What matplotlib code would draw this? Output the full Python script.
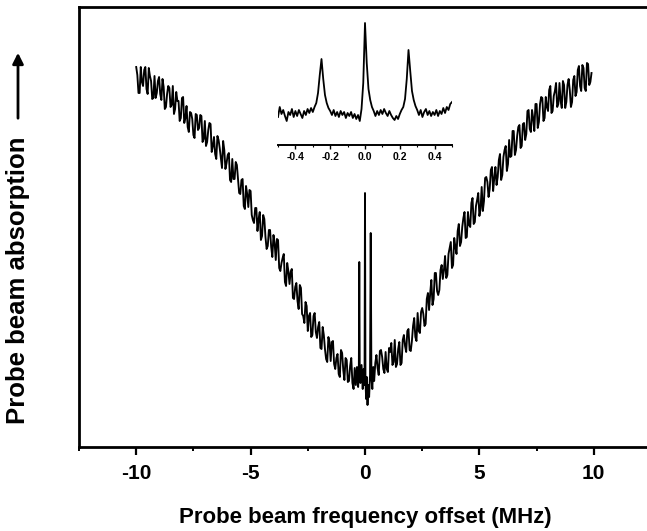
import numpy as np
import matplotlib
matplotlib.use("Agg")
import matplotlib.pyplot as plt
from matplotlib.ticker import MultipleLocator, FixedLocator

plt.rcParams['font.family'] = ['Liberation Sans', 'DejaVu Sans']
plt.rcParams['font.weight'] = 'bold'
plt.rcParams['axes.unicode_minus'] = False

# ---------------- data (absorption, arbitrary units) ----------------
# left wing, samples at -10.0, -9.9, ... -0.6 MHz
freq_left = np.round(np.linspace(-10.0, -0.6, 95), 2)
absorb_left = [
    380, 354, 380, 361, 380,   353, 371, 348, 371, 354,
    370, 347, 360, 340, 361,   340, 361, 338, 346, 326,
    349, 324, 341, 315, 334,   312, 333, 317, 332, 305,
    326, 305, 324, 295, 310,   288, 307, 289, 306, 278,
    292, 267, 288, 268, 282,   254, 267, 241, 261, 240,
    256, 227, 239, 216, 235,   211, 228, 198, 217, 200,
    212, 187, 207, 176, 189,   165, 184, 163, 178, 148,
    164, 138, 159, 131, 145,   116, 134, 112, 134, 109,
    125, 98, 112, 88, 110,     86, 106, 78, 93, 70,
    94, 67, 87, 66, 89,
]
# left wing, samples at -9.95, -9.85, ... -0.55 MHz
freq_left_mid = np.round(np.linspace(-9.95, -0.55, 95), 2)
absorb_left_mid = [
    372, 354, 365, 377, 358,   379, 366, 349, 349, 366,
    353, 368, 338, 353, 359,   342, 333, 355, 346, 329,
    350, 329, 320, 335, 328,   309, 332, 319, 331, 308,
    301, 317, 323, 301, 293,   311, 299, 279, 297, 284,
    294, 265, 268, 285, 268,   253, 268, 238, 253, 257,
    232, 224, 239, 228, 207,   232, 210, 201, 217, 190,
    204, 208, 179, 184, 193,   161, 176, 175, 149, 160,
    146, 162, 133, 124, 141,   131, 110, 131, 115, 120,
    99, 120, 98, 85, 105,      105, 83, 89, 73, 97,
    77, 89, 65, 81, 64,
]

# centre region with the three narrow resonances
freq_center = [-0.5, -0.45, -0.4, -0.35, -0.3, -0.27, -0.25, -0.23, -0.2, -0.15,
               -0.1, -0.06, -0.02, 0.0, 0.02, 0.05, 0.08, 0.11, 0.14, 0.18,
               0.22, 0.25, 0.28, 0.32, 0.36, 0.4, 0.45]
absorb_center = [58, 79, 62, 80, 60, 74, 185, 76, 64, 82,
                 58, 78, 62, 254, 66, 48, 70, 42, 62, 50,
                 72, 214, 70, 58, 80, 66, 84]

# right wing, samples at 0.5, 0.6, ... 9.9 MHz
freq_right = np.round(np.linspace(0.5, 9.9, 95), 2)
absorb_right = [
    92, 72, 97, 78, 95,        75, 95, 82, 107, 83,
    105, 84, 112, 95, 118,     96, 121, 110, 134, 114,
    139, 121, 148, 137, 167,   148, 174, 152, 177, 168,
    191, 172, 199, 179, 209,   193, 223, 205, 229, 209,
    235, 220, 249, 225, 247,   231, 260, 246, 270, 250,
    277, 256, 280, 270, 293,   272, 297, 276, 307, 291,
    316, 297, 320, 299, 323,   307, 336, 318, 337, 316,
    343, 325, 350, 326, 350,   336, 361, 336, 356, 340,
    364, 339, 362, 345, 368,   340, 367, 351, 377, 361,
    382, 359, 384, 362, 374,
]
# right wing, samples at 0.55, 0.65, ... 9.85 MHz
freq_right_mid = np.round(np.linspace(0.55, 9.85, 94), 2)
absorb_right_mid = [
    79, 96, 90, 74, 78,        99, 104, 85, 80, 98,
    82, 107, 101, 116, 97,     106, 129, 106, 116, 135,
    133, 123, 154, 154, 142,   174, 156, 157, 182, 177,
    169, 193, 205, 182, 200,   216, 201, 220, 235, 210,
    222, 244, 223, 241, 254,   238, 236, 269, 265, 258,
    280, 269, 262, 287, 267,   290, 301, 283, 290, 316,
    292, 311, 322, 301, 324,   313, 337, 315, 329, 343,
    319, 343, 349, 329, 340,   357, 334, 351, 364, 343,
    346, 366, 339, 362, 357,   345, 371, 355, 381, 356,
    379, 356, 383, 365,
]

# inset: zoom on the central resonances, -0.50 ... 0.50 MHz
inset_freq = np.round(np.linspace(-0.5, 0.5, 101), 2)
inset_absorb = [
    28, 38, 31, 35, 29, 24, 33, 30, 36, 28,      # -0.50 .. -0.41
    34, 29, 35, 31, 27, 34, 30, 36, 32, 37,      # -0.40 .. -0.31
    33, 38, 42, 52, 70, 86, 66, 50, 42, 37,      # -0.30 .. -0.21
    34, 30, 35, 29, 33, 28, 34, 30, 33, 27,      # -0.20 .. -0.11
    32, 29, 33, 27, 31, 26, 30, 24, 36, 62,      # -0.10 .. -0.01
    122, 82, 56, 45, 38, 34, 29, 34, 30, 35,     #  0.00 ..  0.09
    31, 36, 32, 29, 34, 30, 27, 25, 29, 26,      #  0.10 ..  0.19
    31, 35, 38, 46, 66, 95, 74, 54, 45, 39,      #  0.20 ..  0.29
    35, 30, 35, 28, 33, 36, 30, 34, 29, 33,      #  0.30 ..  0.39
    30, 35, 29, 34, 31, 37, 32, 38, 35, 41,      #  0.40 ..  0.49
    43,                                          #  0.50
]

main_ticks = [-10, -5, 0, 5, 10]
main_ticklabels = ['-10', '-5', '0', '5', '10']
inset_ticks = [-0.4, -0.2, 0.0, 0.2, 0.4]
inset_ticklabels = ['-0.4', '-0.2', '0.0', '0.2', '0.4']

# ---------------- figure ----------------
W, H = 647, 531
fig = plt.figure(figsize=(W / 100, H / 100), dpi=100)

ax = fig.add_axes([79 / W, 1 - 447 / H, (651 - 79) / W, 440 / H])
freq_all = np.concatenate([freq_left, freq_left_mid, freq_center,
                           freq_right, freq_right_mid])
abs_all = np.concatenate([absorb_left, absorb_left_mid, absorb_center,
                          absorb_right, absorb_right_mid])
order = np.argsort(freq_all, kind='stable')
ax.plot(freq_all[order], abs_all[order], color='black', lw=1.35)
ax.set_xlim(-12.5, 12.5)
ax.set_ylim(0, 440)
ax.spines['right'].set_visible(False)
for s in ['left', 'top', 'bottom']:
    ax.spines[s].set_linewidth(2.0)
ax.set_yticks([])
ax.xaxis.set_major_locator(FixedLocator(main_ticks))
ax.set_xticklabels(main_ticklabels)
ax.xaxis.set_minor_locator(MultipleLocator(2.5))
ax.tick_params(axis='x', which='major', direction='out', length=6, width=1.6,
               labelsize=15, pad=6)
ax.tick_params(axis='x', which='minor', direction='out', length=3, width=1.4)
for lab in ax.get_xticklabels():
    lab.set_fontweight('bold')

fig.text(365 / W, 1 - 517 / H, 'Probe beam frequency offset (MHz)',
         ha='center', va='center', fontsize=16, fontweight='bold')
fig.text(18 / W, 1 - 280 / H, 'Probe beam absorption', rotation=90,
         ha='center', va='center', fontsize=18.5, fontweight='bold')
fig.patches.append(matplotlib.patches.FancyArrowPatch(
    (18 / W, 1 - 121 / H), (18 / W, 1 - 50 / H), transform=fig.transFigure,
    arrowstyle='-|>', mutation_scale=16, lw=2.0, color='black'))

# ---------------- inset ----------------
ax_in = fig.add_axes([278 / W, 1 - 145 / H, 174 / W, 127 / H])
ax_in.patch.set_alpha(0)
ax_in.plot(inset_freq, inset_absorb, color='black', lw=1.3)
ax_in.set_xlim(-0.5, 0.5)
ax_in.set_ylim(0, 127)
for s in ['left', 'top', 'right']:
    ax_in.spines[s].set_visible(False)
ax_in.spines['bottom'].set_linewidth(1.4)
ax_in.set_yticks([])
ax_in.xaxis.set_major_locator(FixedLocator(inset_ticks))
ax_in.set_xticklabels(inset_ticklabels)
ax_in.xaxis.set_minor_locator(MultipleLocator(0.1))
ax_in.tick_params(axis='x', which='major', direction='out', length=3, width=1.0,
                  labelsize=7.5, pad=2)
ax_in.tick_params(axis='x', which='minor', direction='out', length=1.5, width=0.8)
for lab in ax_in.get_xticklabels():
    lab.set_fontweight('bold')

fig.savefig('out.png', dpi=100)
